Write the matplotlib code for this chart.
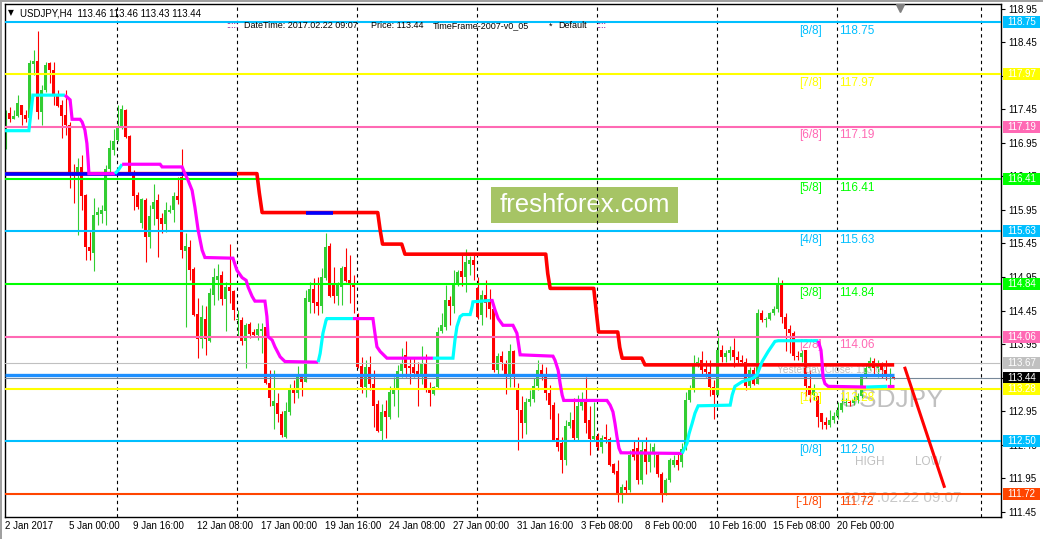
import numpy as np
import matplotlib
matplotlib.use('Agg')
import matplotlib.pyplot as plt
from matplotlib.patches import Rectangle
import matplotlib.transforms as mtransforms

plt.rcParams['font.family'] = ['Liberation Sans', 'DejaVu Sans']

# ---------------- data ----------------
opens = [
116.87, 117.40, 117.31, 117.35, 117.51, 117.37, 117.32, 118.12, 118.17, 117.41,
117.74, 118.14, 118.04, 117.65, 117.51, 117.37, 117.22, 116.52, 116.46, 116.59,
116.17, 115.39, 115.31, 115.88, 115.89, 115.94, 116.56, 116.84, 116.99, 117.17,
117.44, 117.05, 116.52, 116.17, 115.76, 116.10, 115.55, 115.97, 116.09, 115.83,
115.74, 115.92, 115.95, 116.15, 116.44, 115.34, 115.40, 115.07, 114.40, 114.02,
114.33, 114.00, 114.68, 114.91, 114.98, 114.62, 114.80, 114.74, 114.31, 114.31,
114.00, 114.25, 114.13, 114.08, 114.15, 114.20, 113.37, 113.02, 113.07, 112.91,
112.57, 112.94, 113.29, 113.22, 113.47, 113.39, 114.57, 114.77, 114.57, 114.52,
114.93, 115.41, 114.85, 114.67, 114.80, 115.10, 114.91, 114.86, 114.36, 113.62,
113.31, 113.61, 113.36, 113.06, 112.65, 112.95, 112.87, 113.21, 113.27, 113.55,
113.79, 113.62, 113.61, 113.55, 113.46, 113.65, 113.27, 113.21, 113.31, 114.15,
114.21, 114.60, 114.52, 114.86, 115.04, 114.95, 115.15, 115.21, 114.78, 114.38,
114.68, 114.61, 114.47, 113.57, 113.77, 113.67, 113.46, 113.84, 113.27, 112.97,
112.78, 113.08, 113.13, 113.33, 113.57, 113.50, 113.22, 113.04, 112.55, 112.47,
112.22, 112.73, 112.82, 112.55, 113.02, 113.08, 112.82, 112.53, 112.58, 112.42,
112.56, 112.53, 112.17, 112.06, 111.73, 111.82, 111.78, 112.38, 112.40, 111.92,
112.38, 112.20, 112.32, 112.30, 112.02, 111.72, 111.92, 112.15, 112.22, 112.20,
112.38, 113.12, 113.27, 113.64, 113.71, 113.58, 113.54, 113.31, 113.19, 113.86,
113.75, 113.82, 113.86, 113.76, 113.71, 113.69, 113.32, 113.56, 113.36, 114.41,
114.31, 114.32, 114.41, 114.47, 114.86, 114.36, 114.18, 114.11, 113.77, 113.75,
113.86, 113.32, 113.19, 113.17, 112.92, 112.79, 112.74, 112.82, 112.88, 112.97,
113.07, 113.09, 113.07, 113.11, 113.17, 113.46, 113.59, 113.70, 113.59, 113.66,
113.56, 113.46, 113.46,
]
highs = [
117.44, 117.49, 117.44, 117.66, 117.52, 117.44, 118.18, 118.33, 118.61, 117.81,
118.16, 118.16, 118.16, 117.74, 117.59, 117.74, 117.26, 116.64, 116.72, 116.77,
116.19, 115.62, 116.12, 116.00, 116.02, 116.62, 116.99, 117.16, 117.51, 117.51,
117.46, 117.07, 116.54, 116.22, 116.13, 116.12, 116.02, 116.33, 116.18, 115.90,
116.07, 116.02, 116.22, 116.44, 116.85, 115.60, 115.50, 115.10, 114.63, 114.53,
114.51, 114.78, 115.08, 115.15, 115.04, 114.88, 115.44, 114.75, 114.46, 114.36,
114.27, 114.28, 114.18, 114.27, 114.26, 114.21, 113.56, 113.56, 113.22, 112.96,
113.09, 113.36, 113.42, 113.62, 113.51, 114.76, 114.88, 114.93, 114.95, 115.08,
115.61, 115.45, 115.10, 114.88, 115.11, 115.38, 115.28, 114.98, 114.41, 113.76,
113.71, 113.77, 113.56, 113.12, 113.06, 113.12, 113.32, 113.46, 113.64, 113.89,
113.99, 113.74, 113.74, 113.69, 113.92, 113.80, 113.39, 113.32, 114.21, 114.41,
114.83, 114.66, 115.05, 115.05, 115.28, 115.36, 115.26, 115.28, 114.95, 114.76,
114.91, 114.77, 114.48, 113.82, 113.84, 113.71, 113.95, 113.86, 113.37, 113.17,
113.14, 113.27, 113.44, 113.71, 113.66, 113.61, 113.34, 113.09, 112.92, 112.57,
112.82, 112.94, 113.14, 113.19, 113.24, 113.46, 113.02, 113.08, 112.62, 112.60,
112.76, 112.56, 112.18, 112.22, 111.86, 111.93, 112.37, 112.52, 112.57, 112.50,
112.57, 112.47, 112.48, 112.32, 112.05, 111.95, 112.25, 112.30, 112.32, 112.47,
113.24, 113.34, 113.79, 113.76, 113.85, 113.71, 113.71, 113.41, 114.16, 113.94,
113.86, 113.92, 114.04, 113.84, 113.79, 113.74, 113.61, 113.61, 114.48, 114.46,
114.36, 114.43, 114.51, 114.95, 114.91, 114.41, 114.23, 114.14, 113.84, 113.86,
113.86, 113.56, 113.36, 113.17, 112.92, 112.87, 112.97, 112.94, 113.09, 113.14,
113.14, 113.12, 113.17, 113.22, 113.51, 113.66, 113.75, 113.74, 113.71, 113.69,
113.71, 113.59, 113.46,
]
lows = [
116.86, 117.26, 117.30, 117.34, 117.21, 117.26, 117.31, 117.96, 117.31, 117.21,
117.71, 117.84, 117.51, 117.49, 117.02, 117.07, 116.27, 116.05, 115.57, 115.95,
115.20, 115.20, 115.04, 115.72, 115.75, 115.72, 116.52, 116.77, 116.97, 117.16,
117.02, 116.47, 115.95, 115.97, 115.68, 115.18, 115.38, 115.72, 115.25, 115.60,
115.62, 115.90, 115.77, 116.04, 115.23, 114.21, 114.90, 114.37, 113.74, 113.89,
113.79, 113.98, 114.53, 114.61, 114.53, 114.15, 114.56, 114.31, 114.06, 113.94,
113.60, 114.04, 114.06, 114.01, 113.81, 113.35, 113.02, 112.69, 112.79, 112.56,
112.55, 112.89, 113.07, 113.14, 113.17, 113.38, 114.41, 114.41, 114.38, 114.41,
114.90, 114.65, 114.56, 114.53, 114.53, 114.88, 114.56, 114.41, 113.59, 113.22,
113.16, 113.27, 112.72, 112.64, 112.51, 112.55, 112.83, 113.02, 112.87, 113.46,
113.46, 113.36, 113.46, 113.02, 113.36, 113.24, 113.03, 113.19, 113.29, 114.11,
114.16, 114.23, 114.41, 114.81, 114.81, 114.73, 114.98, 114.90, 114.33, 114.23,
114.36, 114.33, 113.54, 113.51, 113.56, 113.21, 113.31, 113.31, 112.37, 112.55,
112.61, 113.02, 113.09, 113.27, 113.41, 113.12, 112.83, 112.50, 112.35, 112.03,
112.15, 112.70, 112.52, 112.52, 112.97, 112.62, 112.30, 112.50, 112.37, 112.32,
112.47, 112.13, 112.02, 111.60, 111.58, 111.73, 111.74, 112.22, 111.87, 111.87,
112.02, 112.05, 112.12, 111.97, 111.60, 111.70, 111.90, 112.12, 112.07, 112.12,
112.37, 113.09, 113.24, 113.61, 113.51, 113.46, 113.17, 112.84, 113.19, 113.69,
113.69, 113.71, 113.61, 113.67, 113.66, 113.27, 113.29, 113.34, 113.36, 114.28,
114.21, 114.31, 114.38, 114.43, 114.26, 113.84, 113.81, 113.71, 113.71, 113.69,
113.17, 113.09, 113.12, 112.72, 112.69, 112.68, 112.72, 112.77, 112.84, 112.94,
113.02, 113.02, 113.04, 113.07, 113.14, 113.44, 113.56, 113.51, 113.46, 113.44,
113.41, 113.34, 113.43,
]
closes = [
117.42, 117.30, 117.35, 117.54, 117.36, 117.31, 118.14, 118.17, 117.41, 117.74,
118.11, 118.04, 117.66, 117.50, 117.35, 117.21, 116.52, 116.46, 116.59, 116.15,
115.39, 115.34, 115.87, 115.92, 115.95, 116.56, 116.87, 116.97, 117.17, 117.45,
117.04, 116.52, 116.15, 116.00, 116.11, 115.55, 115.86, 116.07, 115.82, 115.74,
115.95, 115.95, 116.16, 116.10, 115.35, 115.41, 115.05, 114.38, 114.02, 114.36,
114.02, 114.71, 114.95, 114.96, 114.62, 114.80, 114.74, 114.46, 114.32, 114.00,
114.23, 114.10, 114.08, 114.18, 114.18, 113.37, 113.14, 113.10, 112.91, 112.59,
112.96, 113.27, 113.22, 113.47, 113.39, 114.63, 114.77, 114.56, 114.52, 114.95,
115.40, 114.66, 114.67, 114.85, 115.08, 114.89, 114.86, 114.80, 113.61, 113.31,
113.61, 113.36, 113.03, 112.65, 112.94, 112.87, 113.24, 113.27, 113.55, 113.66,
113.60, 113.60, 113.52, 113.50, 113.66, 113.26, 113.22, 113.31, 114.13, 114.23,
114.61, 114.51, 114.83, 115.03, 114.95, 115.18, 115.21, 115.13, 114.36, 114.68,
114.56, 114.48, 113.56, 113.77, 113.69, 113.47, 113.84, 113.46, 112.97, 112.78,
113.08, 113.13, 113.33, 113.57, 113.50, 113.22, 113.04, 112.52, 112.42, 112.22,
112.73, 112.79, 112.55, 113.02, 113.08, 112.77, 112.53, 112.58, 112.42, 112.55,
112.53, 112.15, 112.03, 111.73, 111.82, 111.78, 112.30, 112.26, 111.92, 112.37,
112.20, 112.32, 112.42, 112.02, 111.72, 111.92, 112.22, 112.22, 112.15, 112.38,
113.12, 113.27, 113.64, 113.69, 113.56, 113.54, 113.31, 113.19, 113.86, 113.75,
113.82, 113.86, 113.75, 113.71, 113.69, 113.32, 113.56, 113.36, 114.41, 114.31,
114.32, 114.41, 114.47, 114.86, 114.36, 114.18, 114.11, 113.77, 113.75, 113.81,
113.32, 113.19, 113.27, 112.87, 112.79, 112.74, 112.82, 112.88, 112.97, 113.07,
113.09, 113.07, 113.11, 113.17, 113.46, 113.59, 113.70, 113.59, 113.66, 113.56,
113.46, 113.46, 113.44,
]

date_labels = ["2 Jan 2017", "5 Jan 00:00", "9 Jan 16:00", "12 Jan 08:00", "17 Jan 00:00",
               "19 Jan 16:00", "24 Jan 08:00", "27 Jan 00:00", "31 Jan 16:00", "3 Feb 08:00",
               "8 Feb 00:00", "10 Feb 16:00", "15 Feb 08:00", "20 Feb 00:00"]
date_label_bars = [0, 15, 31, 47, 63, 79, 95, 111, 127, 143, 159, 175, 191, 207]
grid_bars = [27.8, 57.8, 87.8, 117.8, 147.8, 177.8, 207.8, 243.8]

murrey_levels = [118.75, 117.97, 117.19, 116.41, 115.63, 114.84, 114.06, 113.28, 112.50, 111.72]
murrey_names = ["[8/8]", "[7/8]", "[6/8]", "[5/8]", "[4/8]", "[3/8]", "[2/8]", "[1/8]", "[0/8]", "[-1/8]"]
murrey_colors = ["#00BFFF", "#FFFF00", "#FF69B4", "#00FF00", "#00BFFF", "#00FF00", "#FF69B4",
                 "#FFFF00", "#00BFFF", "#FF4500"]

yesterday_close = 113.67
pivot_level = 113.49
last_price = 113.44
pivot_end_bar = 222.1

step_bars = [-0.3, 62.8, 63.4, 64.1, 93.0, 93.6, 94.2, 99.0, 99.8, 135.0, 135.5, 136.1,
             147.0, 147.6, 148.2, 153.0, 153.5, 154.1, 159.0, 159.8, 222.1]
step_values = [116.49, 116.49, 116.20, 115.91, 115.91, 115.65, 115.44, 115.44, 115.29, 115.29,
               115.00, 114.78, 114.78, 114.45, 114.13, 114.13, 113.90, 113.74, 113.74, 113.64, 113.64]
step_blue_ranges = [(-0.3, 57.8), (75.0, 81.8)]

ma_bars = [-0.2, 5.8, 6.8, 14.8, 16.1, 16.6, 18.6, 19.1, 19.8, 20.3, 20.6, 20.8, 27.3,
           28.1, 29.1, 29.8, 38.6, 39.1, 44.1, 44.8, 45.6, 46.6, 47.3, 48.1, 49.1, 49.8,
           56.8, 57.8, 59.1, 60.1, 60.6, 61.6, 62.3, 64.8, 65.3, 65.6, 66.6, 67.3, 68.6,
           69.8, 78.1, 78.6, 79.3, 80.1, 80.3, 86.8, 91.8, 92.3, 92.8, 93.6, 95.3, 106.8,
           111.8, 112.3, 112.8, 113.6, 114.3, 116.1, 116.6, 116.8, 121.1, 121.6, 122.3,
           123.1, 124.3, 126.8, 127.8, 128.6, 136.8, 137.3, 138.1, 138.6, 139.1, 139.5,
           150.3, 151.1, 151.8, 152.3, 152.8, 153.3, 153.8, 169.1, 169.3, 170.3, 170.8,
           171.6, 172.3, 173.1, 181.1, 181.6, 182.3, 184.1, 186.8, 187.8, 189.1, 190.6,
           192.3, 193.1, 203.1, 203.8, 204.1, 204.3, 204.8, 205.6, 215.1, 220.3, 222.1]
ma_values = [117.13, 117.13, 117.66, 117.66, 117.59, 117.30, 117.30, 117.26, 117.14, 116.94,
             116.69, 116.49, 116.49, 116.54, 116.63, 116.63, 116.63, 116.59, 116.59, 116.49,
             116.39, 116.24, 115.99, 115.65, 115.35, 115.24, 115.23, 115.05, 114.94, 114.90,
             114.80, 114.66, 114.59, 114.59, 114.36, 114.06, 114.01, 113.91, 113.76, 113.69,
             113.68, 113.81, 114.11, 114.31, 114.33, 114.33, 114.33, 114.11, 113.91, 113.84,
             113.74, 113.74, 113.74, 114.01, 114.21, 114.36, 114.39, 114.39, 114.51, 114.58,
             114.60, 114.60, 114.46, 114.33, 114.23, 114.23, 114.11, 113.79, 113.77, 113.71,
             113.56, 113.36, 113.19, 113.11, 113.11, 113.04, 112.94, 112.77, 112.57, 112.40,
             112.33, 112.32, 112.35, 112.47, 112.61, 112.77, 112.92, 113.03, 113.04, 113.19,
             113.32, 113.39, 113.44, 113.49, 113.69, 113.84, 113.99, 114.00, 114.00, 113.86,
             113.66, 113.46, 113.36, 113.32, 113.31, 113.32, 113.32]
# 'c' = rising (aqua), 'm' = falling (magenta); colour of the segment ending at that point
ma_trend = ['c', 'c', 'c', 'c', 'm', 'm', 'm', 'm', 'm', 'm', 'm', 'm', 'm',
            'c', 'c', 'm', 'm', 'm', 'm', 'm', 'm', 'm', 'm', 'm', 'm', 'm',
            'm', 'm', 'm', 'm', 'm', 'm', 'm', 'm', 'm', 'm', 'm', 'm', 'm',
            'm', 'm', 'c', 'c', 'c', 'c', 'c', 'm', 'm', 'm', 'm', 'm', 'm',
            'c', 'c', 'c', 'c', 'c', 'c', 'c', 'c', 'c', 'm', 'm',
            'm', 'm', 'm', 'm', 'm', 'm', 'm', 'm', 'm', 'm', 'm',
            'm', 'm', 'm', 'm', 'm', 'm', 'm', 'm', 'c', 'c', 'c',
            'c', 'c', 'c', 'c', 'c', 'c', 'c', 'c', 'c', 'c', 'c',
            'c', 'c', 'c', 'm', 'm', 'm', 'm', 'm', 'm', 'c', 'm']

projection_bars = [224.8, 234.6]
projection_values = [113.59, 111.83]

axis_boxes = [(118.75, "#00BFFF"), (117.97, "#FFFF00"), (117.19, "#FF69B4"), (116.41, "#00FF00"),
              (115.63, "#00BFFF"), (114.84, "#00FF00"), (114.06, "#FF69B4"), (113.67, "#C0C0C0"),
              (113.44, "#000000"), (113.28, "#FFFF00"), (112.50, "#00BFFF"), (111.72, "#FF4500")]

# ---------------- figure ----------------
W, H = 1043, 539
fig = plt.figure(figsize=(W / 100, H / 100), dpi=100)
fig.patch.set_facecolor('white')
ax = fig.add_axes([5 / W, 22 / H, 996 / W, 513 / H])
ax.set_facecolor('white')
ax.set_xlim(-0.175, 248.8)
ax.set_ylim(111.373, 119.018)

o = np.array(opens); h = np.array(highs); l = np.array(lows); c = np.array(closes)
h = np.maximum(h, np.maximum(o, c)); l = np.minimum(l, np.minimum(o, c))
idx = np.arange(len(c))
up = c >= o
cols = np.where(up, '#32CD32', '#FF0000')

# grid
for g in grid_bars:
    ax.axvline(g, color='black', lw=0.8, ls=(0, (3, 3)), zorder=1)

# candles
ax.vlines(idx, l, h, colors=cols, lw=0.8, zorder=2)
body = np.maximum(np.abs(c - o), 0.016)
ax.bar(idx, body, bottom=np.minimum(o, c), width=0.75, color=cols, lw=0, zorder=2.1)

# murrey lines & labels
for lev, name, col in zip(murrey_levels, murrey_names, murrey_colors):
    ax.axhline(lev, color=col, lw=1.5, zorder=3)
    ax.text(204.1, lev - 0.04, name, color=col, fontsize=8.5, ha='right', va='top', zorder=3.3)
    ax.text(208.3, lev - 0.04, f"{lev:.2f}", color=col, fontsize=8.5, ha='left', va='top', zorder=3.3)

ax.axhline(yesterday_close, color='#C0C0C0', lw=0.8, zorder=3)
ax.axhline(last_price, color='#778899', lw=0.8, zorder=3)
ax.plot([ax.get_xlim()[0], pivot_end_bar], [pivot_level, pivot_level], color='#1E90FF', lw=2.4,
        solid_capstyle='butt', zorder=3.5)

# step line (red with blue parts)
ax.plot(step_bars, step_values, color='#FF0000', lw=2.6, solid_capstyle='butt', zorder=4)
for a, b in step_blue_ranges:
    xs = np.array([a, b])
    ax.plot(xs, np.interp(xs, step_bars, step_values), color='#0000FF', lw=2.6,
            solid_capstyle='butt', zorder=4.1)

# trend MA line
ma_colors = {'c': '#00FFFF', 'm': '#FF00FF'}
k = 0
while k < len(ma_bars) - 1:
    col = ma_trend[k + 1]
    j = k + 1
    while j + 1 < len(ma_bars) and ma_trend[j + 1] == col:
        j += 1
    ax.plot(ma_bars[k:j + 1], ma_values[k:j + 1], color=ma_colors[col], lw=2.3,
            solid_capstyle='butt', solid_joinstyle='miter', zorder=4.2)
    k = j

# projection
ax.plot(projection_bars, projection_values, color='#FF0000', lw=2.2, zorder=4.3)

# texts inside chart
ax.text(192.8, 113.56, "Yesterday Close: 113.67", color='#C0C0C0', fontsize=7.3,
        ha='left', va='center', zorder=3.2)
ax.text(208.6, 113.12, "USDJPY", color='#C0C0C0', fontsize=19, ha='left', va='center', zorder=1.5)
ax.text(212.3, 112.19, "HIGH", color='#C0C0C0', fontsize=8.5, ha='left', va='center', zorder=1.5)
ax.text(227.3, 112.19, "LOW", color='#C0C0C0', fontsize=8.5, ha='left', va='center', zorder=1.5)
ax.text(209.3, 111.66, "2017.02.22 09:07", color='#C8C8C8', fontsize=11, ha='left', va='center',
        zorder=1.5)

# watermark box
ax.add_patch(Rectangle((121.3, 115.754), 46.8, 0.537, facecolor='#a6c465', edgecolor='none',
                       zorder=0.5))
ax.text(144.7, 116.02, "freshforex.com", color='white', fontsize=18.5, ha='center', va='center',
        zorder=0.6)

# small shift marker
ax.plot([223.6], [118.965], marker='v', color='#808080', markersize=6, clip_on=False, zorder=6)

# axes
ax.yaxis.tick_right()
yt = np.arange(111.45, 119.0, 0.5)
ax.set_yticks(yt)
ax.set_yticklabels([f"{v:.2f}" for v in yt])
ax.tick_params(axis='y', length=3, width=0.8, labelsize=7, pad=2, direction='out', colors='black')
xt = [b + 0.7 for b in date_label_bars]
xt[0] = -0.1
ax.set_xticks(xt)
ax.set_xticklabels(date_labels)
for t in ax.get_xticklabels():
    t.set_ha('left')
ax.tick_params(axis='x', length=0, labelsize=7, pad=3)
for s in ax.spines.values():
    s.set_color('black'); s.set_linewidth(1)

# right axis price boxes
tr = mtransforms.blended_transform_factory(ax.transAxes, ax.transData)
bw = 37 / 996
bh = 12 / 67.1
for lev, col in axis_boxes:
    ax.add_patch(Rectangle((1.002, lev - bh / 2), bw, bh, transform=tr, facecolor=col,
                           edgecolor='none', clip_on=False, zorder=6))
    ax.text(1.002 + bw / 2, lev, f"{lev:.2f}", transform=tr, color='white', fontsize=7,
            ha='center', va='center', clip_on=False, zorder=6.1)

# header
def fx(x): return x / W
def fy(y): return 1 - y / H
fig.text(fx(8), fy(13), "\u25BC", fontsize=5.5, va='center', ha='left', family='DejaVu Sans')
fig.text(fx(20), fy(13), "USDJPY,H4  113.46 113.46 113.43 113.44", fontsize=7, va='center', ha='left')
fig.text(fx(226), fy(26), ":::::", fontsize=6.5, va='center', ha='left', color='#800080')
fig.text(fx(244), fy(26), "DateTime: 2017.02.22 09:07", fontsize=6.5, va='center', ha='left')
fig.text(fx(371), fy(26), "Price: 113.44", fontsize=6.5, va='center', ha='left')
fig.text(fx(433), fy(26), "TimeFrame-2007-v0_05", fontsize=6.5, va='center', ha='left')
fig.text(fx(549), fy(26), "*", fontsize=6.5, va='center', ha='left')
fig.text(fx(558), fy(26), "Default", fontsize=6.5, va='center', ha='left')
fig.text(fx(596), fy(26), "::::", fontsize=6.5, va='center', ha='left', color='#800080')

# window border
fig.patches.append(Rectangle((0, 0), 2 / W, 1, transform=fig.transFigure, facecolor='#a0a0a0',
                             edgecolor='none'))
fig.patches.append(Rectangle((0, 1 - 1.5 / H), 1, 1.5 / H, transform=fig.transFigure,
                             facecolor='#a0a0a0', edgecolor='none'))

fig.savefig('out.png', dpi=100)
